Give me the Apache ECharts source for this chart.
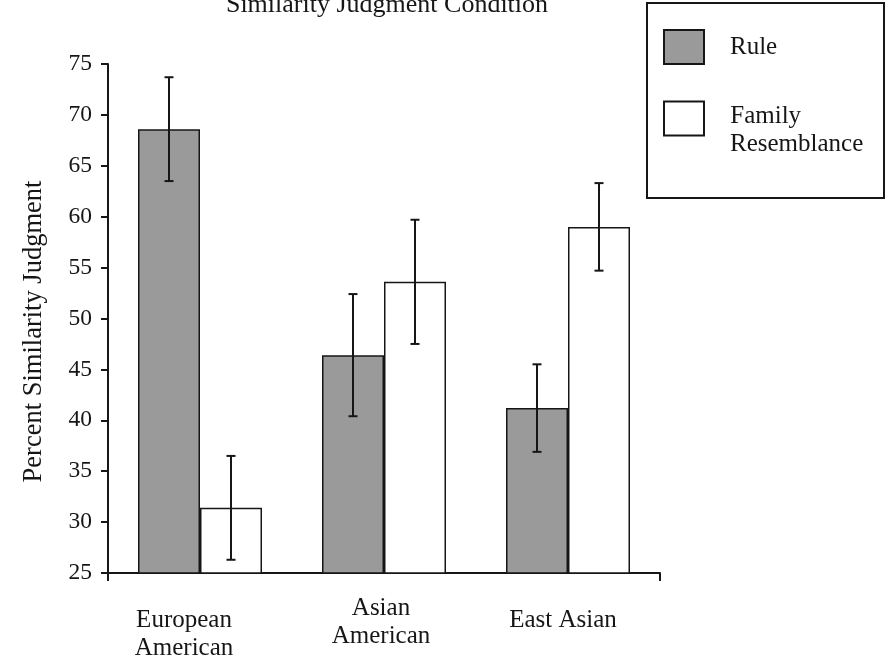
<!DOCTYPE html>
<html>
<head>
<meta charset="utf-8">
<title>Similarity Judgment Condition</title>
<script src="https://cdn.jsdelivr.net/npm/echarts@6/dist/echarts.min.js"></script>
<style>
  html, body { margin: 0; padding: 0; background: #fff; }
  #chart { width: 889px; height: 662px; }
</style>
</head>
<body>
<div id="chart"></div>
<script>
// Cultural groups on the x axis
const categories = ['European\nAmerican', 'Asian\nAmerican', 'East Asian'];
// Mean percent similarity judgments and standard errors per condition
const ruleMeans = [68.6, 46.4, 41.2];
const ruleErrors = [5.1, 6.0, 4.3];
const familyMeans = [31.4, 53.6, 59.0];
const familyErrors = [5.1, 6.1, 4.3];
// Value axis range
const yMin = 25;
const yMax = 75;
const yStep = 5;

const serif = '"Liberation Serif", "DejaVu Serif", serif';
const ink = '#161616';
const BAR_W = 62;

function errorRows(means, errs) {
  return means.map((m, i) => [i, m, errs[i]]);
}

function errorBar(offset) {
  return function (params, api) {
    const i = api.value(0);
    const m = api.value(1);
    const e = api.value(2);
    const hi = api.coord([i, m + e]);
    const lo = api.coord([i, m - e]);
    const x = hi[0] + offset;
    const cap = 4.5;
    const style = { stroke: ink, lineWidth: 2 };
    return {
      type: 'group',
      children: [
        { type: 'line', shape: { x1: x, y1: hi[1], x2: x, y2: lo[1] }, style },
        { type: 'line', shape: { x1: x - cap, y1: hi[1], x2: x + cap, y2: hi[1] }, style },
        { type: 'line', shape: { x1: x - cap, y1: lo[1], x2: x + cap, y2: lo[1] }, style }
      ]
    };
  };
}

const chart = echarts.init(document.getElementById('chart'), null, { renderer: 'canvas' });

const legendFont = { fontFamily: serif, fontSize: 25, lineHeight: 31, color: ink };

chart.setOption({
  backgroundColor: '#ffffff',
  animation: false,
  textStyle: { fontFamily: serif, color: ink },
  title: {
    text: 'Similarity Judgment Condition',
    left: 382,
    textAlign: 'center',
    top: -13,
    textStyle: { fontFamily: serif, fontSize: 26, fontWeight: 'normal', color: ink, lineHeight: 26 }
  },
  graphic: [{
    type: 'rect',
    z: 0,
    shape: { x: 647, y: 3, width: 237, height: 195 },
    style: { fill: '#ffffff', stroke: ink, lineWidth: 2 }
  }],
  legend: {
    orient: 'vertical',
    left: 663,
    top: 29,
    padding: 0,
    itemWidth: 40,
    itemHeight: 34,
    itemGap: 12,
    icon: 'rect',
    selectedMode: false,
    z: 5,
    // the two-line label sits a little lower than its swatch: a tall, empty
    // spacer token lifts the first line's box so the words hang from its bottom
    formatter: name => name === 'Family Resemblance'
      ? '{s| }{f|Family}\n{r|Resemblance}'
      : name,
    textStyle: Object.assign({
      padding: [0, 0, 0, 21],
      rich: {
        s: { fontSize: 1, lineHeight: 52, fontFamily: serif },
        f: Object.assign({ verticalAlign: 'bottom' }, legendFont),
        r: Object.assign({}, legendFont)
      }
    }, legendFont),
    data: ['Rule', 'Family Resemblance']
  },
  grid: { left: 108, right: 229, top: 64, bottom: 89, containLabel: false },
  xAxis: [{
    type: 'category',
    data: [
      { value: categories[0], textStyle: { padding: [12, 32, 0, 0] } },
      { value: categories[1], textStyle: { padding: [0, 6, 0, 0] } },
      { value: categories[2], textStyle: { padding: [12, 10, 0, 0] } }
    ],
    axisLine: { lineStyle: { color: ink, width: 2 } },
    axisTick: { show: false },
    axisLabel: {
      margin: 21,
      interval: 0,
      verticalAlign: 'top',
      fontFamily: serif,
      fontSize: 25,
      lineHeight: 28,
      color: ink
    }
  }, {
    // end ticks of the category baseline
    type: 'value',
    position: 'bottom',
    min: 0,
    max: 1,
    interval: 1,
    axisLine: { show: false },
    axisTick: { show: true, length: 8, lineStyle: { color: ink, width: 2 } },
    axisLabel: { show: false },
    splitLine: { show: false }
  }],
  yAxis: {
    type: 'value',
    min: yMin,
    max: yMax,
    interval: yStep,
    name: 'Percent Similarity Judgment',
    nameLocation: 'middle',
    nameGap: 60,
    nameRotate: 90,
    nameTextStyle: { fontFamily: serif, fontSize: 26.5, color: ink, padding: [0, 26, 0, 0] },
    axisLine: { show: true, lineStyle: { color: ink, width: 2 } },
    axisTick: { show: true, inside: false, length: 7, lineStyle: { color: ink, width: 2 } },
    axisLabel: { margin: 16, fontFamily: serif, fontSize: 23.5, color: ink },
    splitLine: { show: false }
  },
  series: [
    {
      name: 'Rule',
      type: 'bar',
      xAxisIndex: 0,
      barWidth: BAR_W,
      barGap: '0%',
      data: ruleMeans,
      itemStyle: { color: '#9a9a9a', borderColor: ink, borderWidth: 1.5 },
      z: 2
    },
    {
      name: 'Family Resemblance',
      type: 'bar',
      xAxisIndex: 0,
      barWidth: BAR_W,
      barGap: '0%',
      data: familyMeans,
      itemStyle: { color: '#ffffff', borderColor: ink, borderWidth: 1.5 },
      z: 2
    },
    {
      name: 'Rule SE',
      type: 'custom',
      xAxisIndex: 0,
      renderItem: errorBar(-BAR_W / 2),
      encode: { x: 0, y: 1 },
      data: errorRows(ruleMeans, ruleErrors),
      z: 3
    },
    {
      name: 'Family SE',
      type: 'custom',
      xAxisIndex: 0,
      renderItem: errorBar(BAR_W / 2),
      encode: { x: 0, y: 1 },
      data: errorRows(familyMeans, familyErrors),
      z: 3
    }
  ]
});
</script>
</body>
</html>
